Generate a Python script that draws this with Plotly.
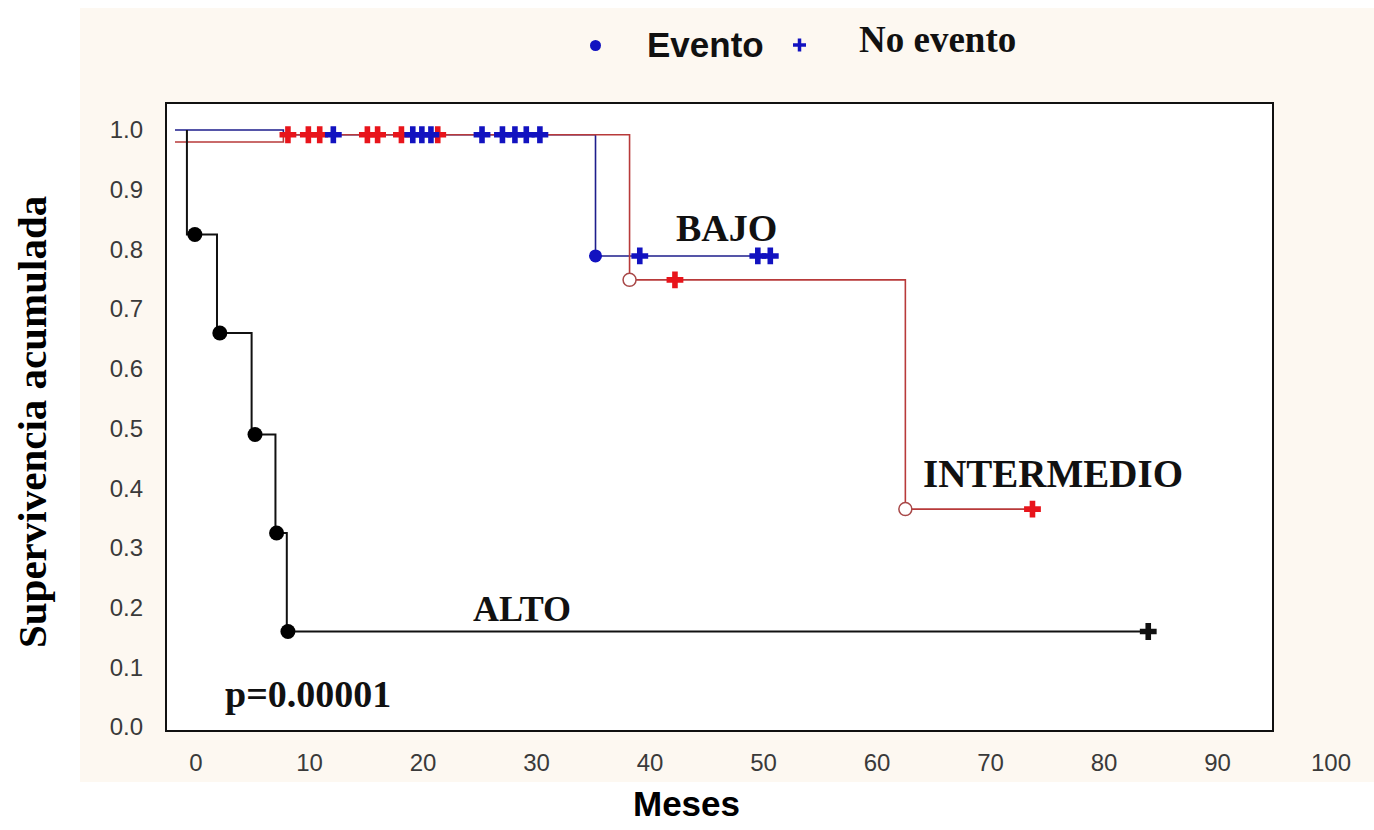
import plotly.graph_objects as go

# ---------------- data ----------------
# ALTO (black) step curve
alto_t = [-0.8, -0.8, 1.85, 4.9, 7.0, 8.0, 83.9]
alto_s = [1.0, 0.825, 0.66, 0.49, 0.325, 0.16, 0.16]
alto_event_t = [-0.1, 2.1, 5.2, 7.1, 8.1]
alto_event_s = [0.825, 0.66, 0.49, 0.325, 0.16]
alto_cens_t = [83.9]
alto_cens_s = [0.16]

# INTERMEDIO (red) step curve
inter_t = [-1.85, 7.7, 38.2, 62.5, 73.7]
inter_s = [0.98, 0.992, 0.749, 0.365, 0.365]
inter_event_t = [38.2, 62.5]
inter_event_s = [0.749, 0.365]
inter_cens_t = [8.1, 9.9, 10.9, 15.1, 16.0, 18.1, 21.3, 42.2, 73.7]
inter_cens_s = [0.992, 0.992, 0.992, 0.992, 0.992, 0.992, 0.992, 0.749, 0.365]

# BAJO (blue) step curve
bajo_t = [-1.85, 7.7, 35.2, 50.6]
bajo_s = [1.0, 0.992, 0.789, 0.789]
bajo_event_t = [35.2]
bajo_event_s = [0.789]
bajo_cens_t = [12.1, 19.1, 19.9, 20.7, 25.2, 27.0, 28.1, 29.1, 30.3, 39.1, 49.5, 50.6]
bajo_cens_s = [0.992, 0.992, 0.992, 0.992, 0.992, 0.992, 0.992, 0.992, 0.992, 0.789, 0.789, 0.789]

x_ticks = [0, 10, 20, 30, 40, 50, 60, 70, 80, 90, 100]
y_ticks = [0.0, 0.1, 0.2, 0.3, 0.4, 0.5, 0.6, 0.7, 0.8, 0.9, 1.0]

# ---------------- layout geometry (pixels) ----------------
W, H = 1374, 830
ML, MR, MT, MB = 166, 0, 103, 99
PW, PH = W - ML - MR, H - MT - MB


def px(x):
    return (x - ML) / PW


def py(y):
    return (H - MB - y) / PH


RED_LINE = "#b83a3a"
RED_MK = "#e8141b"
BLUE_LINE = "#1e1e8c"
BLUE_MK = "#1212c0"

fig = go.Figure()

fig.add_trace(go.Scatter(x=bajo_t, y=bajo_s, mode="lines", line=dict(color=BLUE_LINE, width=1.6, shape="hv"),
                         showlegend=False, hoverinfo="skip"))
fig.add_trace(go.Scatter(x=inter_t, y=inter_s, mode="lines", line=dict(color=RED_LINE, width=1.6, shape="hv"),
                         showlegend=False, hoverinfo="skip"))
fig.add_trace(go.Scatter(x=alto_t, y=alto_s, mode="lines", line=dict(color="#111111", width=2, shape="hv"),
                         showlegend=False, hoverinfo="skip"))

# censored marks
fig.add_trace(go.Scatter(x=inter_cens_t, y=inter_cens_s, mode="markers",
                         marker=dict(symbol="cross", size=14, color=RED_MK, line=dict(width=0)),
                         showlegend=False, cliponaxis=False))
fig.add_trace(go.Scatter(x=bajo_cens_t, y=bajo_cens_s, mode="markers",
                         marker=dict(symbol="cross", size=14, color=BLUE_MK, line=dict(width=0)),
                         showlegend=False, cliponaxis=False))
fig.add_trace(go.Scatter(x=alto_cens_t, y=alto_cens_s, mode="markers",
                         marker=dict(symbol="cross", size=14, color="#111111", line=dict(width=0)),
                         showlegend=False, cliponaxis=False))

# events
fig.add_trace(go.Scatter(x=alto_event_t, y=alto_event_s, mode="markers",
                         marker=dict(symbol="circle", size=15, color="#000000"),
                         showlegend=False))
fig.add_trace(go.Scatter(x=bajo_event_t, y=bajo_event_s, mode="markers",
                         marker=dict(symbol="circle", size=13, color=BLUE_MK),
                         showlegend=False))
fig.add_trace(go.Scatter(x=inter_event_t, y=inter_event_s, mode="markers",
                         marker=dict(symbol="circle", size=13, color="white",
                                     line=dict(color="#a84848", width=1.5)),
                         showlegend=False))

# ---------------- shapes ----------------
shapes = [
    # beige panel
    dict(type="rect", xref="paper", yref="paper", x0=px(80), x1=px(W), y0=py(782), y1=py(8),
         fillcolor="#fdf8f1", line=dict(width=0), layer="below"),
    # white framed plot area
    dict(type="rect", xref="paper", yref="paper", x0=px(166), x1=px(1273), y0=py(731), y1=py(103),
         fillcolor="white", line=dict(color="#111111", width=2), layer="below"),
    # legend markers
    dict(type="circle", xref="paper", yref="paper", x0=px(590), x1=px(601), y0=py(51), y1=py(40),
         fillcolor=BLUE_MK, line=dict(width=0)),
    dict(type="line", xref="paper", yref="paper", x0=px(793), x1=px(806), y0=py(45), y1=py(45),
         line=dict(color=BLUE_MK, width=3.5)),
    dict(type="line", xref="paper", yref="paper", x0=px(799.5), x1=px(799.5), y0=py(51.5), y1=py(38.5),
         line=dict(color=BLUE_MK, width=3.5)),
]

serif = "Liberation Serif"
sans = "Liberation Sans"


def ann(text, x, y, family, size, angle=0, color="#111111"):
    return dict(text=text, xref="paper", yref="paper", x=px(x), y=py(y), showarrow=False,
                xanchor="center", yanchor="middle", textangle=angle,
                font=dict(family=family, size=size, color=color))


annotations = [
    ann("<b>BAJO</b>", 726, 228, serif, 38),
    ann("<b>INTERMEDIO</b>", 1053, 473, serif, 39),
    ann("<b>ALTO</b>", 522, 609, serif, 36),
    ann("<b>p=0.00001</b>", 308, 694, serif, 38),
    ann("<b>Evento</b>", 705, 44, sans, 35),
    ann("<b>No evento</b>", 937, 39, serif, 37),
    ann("<b>Meses</b>", 686, 803, sans, 35, color="#000000"),
    ann("<b>Supervivencia acumulada</b>", 32, 422, serif, 41, angle=-90, color="#000000"),
]

fig.update_layout(
    width=W, height=H,
    margin=dict(l=ML, r=MR, t=MT, b=MB, pad=0),
    paper_bgcolor="white",
    plot_bgcolor="rgba(0,0,0,0)",
    shapes=shapes,
    annotations=annotations,
    showlegend=False,
    xaxis=dict(range=[-2.643, 103.79], tickmode="array", tickvals=x_ticks,
               ticktext=[str(v) for v in x_ticks], showgrid=False, zeroline=False,
               showline=False, ticks="", ticklabelstandoff=15,
               tickfont=dict(family=sans, size=24, color="#3a3a3a")),
    yaxis=dict(range=[-0.0067, 1.0452], tickmode="array", tickvals=y_ticks,
               ticktext=[f"{v:.1f}" for v in y_ticks], showgrid=False, zeroline=False,
               showline=False, ticks="", ticklabelstandoff=22,
               tickfont=dict(family=sans, size=24, color="#3a3a3a")),
)

fig.write_html("out.html")
